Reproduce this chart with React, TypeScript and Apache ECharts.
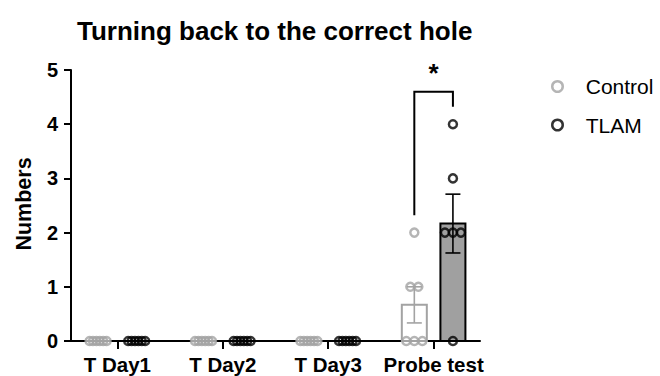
import React, { useEffect, useRef } from "react";
import * as echarts from "echarts";

const categories = ["T Day1", "T Day2", "T Day3", "Probe test"];
const controlValues = [
  [0, 0, 0, 0, 0, 0],
  [0, 0, 0, 0, 0, 0],
  [0, 0, 0, 0, 0, 0],
  [0, 0, 0, 1, 1, 2],
];
const tlamValues = [
  [0, 0, 0, 0, 0, 0],
  [0, 0, 0, 0, 0, 0],
  [0, 0, 0, 0, 0, 0],
  [0, 2, 2, 2, 3, 4],
];
const yTicks = [0, 1, 2, 3, 4, 5];
const bracketCategory = 3;
const bracketLegs = [2.32, 4.32];
const bracketTop = 4.6;
const bracketLabel = "*";

const FONT = "'Liberation Sans', Arial, Helvetica, sans-serif";
const X_MIN = -0.44;
const X_MAX = 3.44;
const GRID_LEFT = 71;
const GRID_RIGHT = 180;
const PX_PER_UNIT = (660 - GRID_LEFT - GRID_RIGHT) / (X_MAX - X_MIN);
const GROUP_OFFSET = 19.3 / PX_PER_UNIT;

const CONTROL_COLOR = "#a3a3a3";
const TLAM_COLOR = "#000000";
const TLAM_FILL = "#a0a0a0";

function mean(a: number[]) {
  return a.reduce((s, v) => s + v, 0) / a.length;
}
function sem(a: number[]) {
  const m = mean(a);
  const v = a.reduce((s, x) => s + (x - m) * (x - m), 0) / (a.length - 1);
  return Math.sqrt(v) / Math.sqrt(a.length);
}
function swarm(vals: number[], center: number) {
  const counts: Record<string, number> = {};
  vals.forEach((v) => (counts[v] = (counts[v] || 0) + 1));
  const seen: Record<string, number> = {};
  return vals.map((v) => {
    const n = counts[v];
    const k = seen[v] || 0;
    seen[v] = k + 1;
    const spacing = n > 1 ? Math.min(8, 17 / (n - 1)) : 0;
    const offPx = (k - (n - 1) / 2) * spacing;
    return [center + offPx / PX_PER_UNIT, v];
  });
}

export default function App() {
  const ref = useRef<HTMLDivElement>(null);
  useEffect(() => {
    if (!ref.current) return;
    const chart = echarts.init(ref.current, null, { renderer: "svg" });

    const groups = [
      { name: "Control", values: controlValues, sign: -1, color: CONTROL_COLOR, fill: "#ffffff" },
      { name: "TLAM", values: tlamValues, sign: 1, color: TLAM_COLOR, fill: TLAM_FILL },
    ];

    const series: any[] = [];
    groups.forEach((g) => {
      const summary = g.values.map((vals, i) => [
        i + g.sign * GROUP_OFFSET,
        mean(vals),
        sem(vals),
      ]);
      series.push({
        type: "custom",
        name: g.name + " mean",
        z: 1,
        data: summary,
        encode: { x: 0, y: 1 },
        renderItem: (params: any, api: any) => {
          const x = api.value(0);
          const m = api.value(1);
          const p0 = api.coord([x, 0]);
          const p1 = api.coord([x, m]);
          return {
            type: "rect",
            shape: { x: p0[0] - 12.5, y: p1[1], width: 25, height: p0[1] - p1[1] },
            style: { fill: g.fill, stroke: g.color, lineWidth: 2 },
          };
        },
      });
      series.push({
        type: "custom",
        name: g.name + " sem",
        z: 2,
        data: summary,
        encode: { x: 0, y: 1 },
        renderItem: (params: any, api: any) => {
          const x = api.value(0);
          const m = api.value(1);
          const s = api.value(2);
          if (s === 0) return null;
          const lo = api.coord([x, m - s]);
          const hi = api.coord([x, m + s]);
          const st = { stroke: g.color, lineWidth: 1.6 };
          return {
            type: "group",
            children: [
              { type: "line", shape: { x1: lo[0], y1: lo[1], x2: hi[0], y2: hi[1] }, style: st },
              { type: "line", shape: { x1: lo[0] - 7.5, y1: lo[1], x2: lo[0] + 7.5, y2: lo[1] }, style: st },
              { type: "line", shape: { x1: hi[0] - 7.5, y1: hi[1], x2: hi[0] + 7.5, y2: hi[1] }, style: st },
            ],
          };
        },
      });
      const pts: number[][] = [];
      g.values.forEach((vals, i) => {
        swarm(vals, i + g.sign * GROUP_OFFSET).forEach((p) => pts.push(p));
      });
      series.push({
        type: "scatter",
        name: g.name,
        z: 3,
        symbol: "circle",
        symbolSize: 8,
        data: pts,
        itemStyle: { color: "rgba(0,0,0,0)", borderColor: g.color, borderWidth: 2.5 },
      });
    });

    series.push({
      type: "custom",
      name: "significance",
      z: 4,
      data: [[bracketCategory - GROUP_OFFSET, bracketCategory + GROUP_OFFSET, bracketLegs[0], bracketLegs[1], bracketTop]],
      encode: { x: [0, 1], y: [2, 3, 4] },
      renderItem: (params: any, api: any) => {
        const xl = api.value(0);
        const xr = api.value(1);
        const a = api.coord([xl, api.value(2)]);
        const t1 = api.coord([xl, api.value(4)]);
        const t2 = api.coord([xr, api.value(4)]);
        const b = api.coord([xr, api.value(3)]);
        return {
          type: "group",
          children: [
            {
              type: "polyline",
              shape: { points: [a, t1, t2, b] },
              style: { stroke: "#000", lineWidth: 2, fill: "none" },
            },
            {
              type: "text",
              style: {
                x: (t1[0] + t2[0]) / 2,
                y: t1[1] - 6,
                text: bracketLabel,
                font: "bold 26px " + FONT,
                fill: "#000",
                align: "center",
                verticalAlign: "bottom",
              },
            },
          ],
        };
      },
    });

    chart.setOption({
      animation: false,
      backgroundColor: "#ffffff",
      title: {
        text: "Turning back to the correct hole",
        left: 72,
        top: 13,
        textStyle: { fontFamily: FONT, fontWeight: "bold", fontSize: 26, color: "#000" },
      },
      legend: {
        orient: "vertical",
        left: 546,
        top: 71,
        data: ["Control", "TLAM"],
        itemWidth: 10.5,
        itemHeight: 10.5,
        itemGap: 17.5,
        itemStyle: { borderWidth: 2.5 },
        textStyle: { fontFamily: FONT, fontSize: 21, color: "#000", padding: [0, 0, 0, 18] },
      },
      grid: { left: GRID_LEFT, right: GRID_RIGHT, top: 70, bottom: 35 },
      xAxis: {
        type: "value",
        min: X_MIN,
        max: X_MAX,
        splitLine: { show: false },
        axisLine: { show: true, onZero: false, lineStyle: { color: "#000", width: 2 } },
        axisTick: { show: true, customValues: [0, 1, 2, 3], length: 8, lineStyle: { color: "#000", width: 2 } },
        axisLabel: {
          customValues: [0, 1, 2, 3],
          formatter: (v: number) => categories[Math.round(v)] ?? "",
          fontFamily: FONT,
          fontWeight: "bold",
          fontSize: 20.5,
          color: "#000",
          margin: 13,
        },
      },
      yAxis: {
        type: "value",
        min: yTicks[0],
        max: yTicks[yTicks.length - 1],
        interval: 1,
        splitLine: { show: false },
        axisLine: { show: true, onZero: false, lineStyle: { color: "#000", width: 2 } },
        axisTick: { show: true, length: 7, lineStyle: { color: "#000", width: 2 } },
        axisLabel: {
          fontFamily: FONT,
          fontWeight: "bold",
          fontSize: 20,
          color: "#000",
          margin: 13,
        },
      },
      graphic: [
        {
          type: "text",
          x: 24,
          y: 204,
          rotation: Math.PI / 2,
          style: {
            text: "Numbers",
            font: "bold 21.5px " + FONT,
            fill: "#000",
            align: "center",
            verticalAlign: "middle",
          },
        },
      ],
      series,
    });
    return () => chart.dispose();
  }, []);
  return (
    <div
      ref={ref}
      style={{ position: "fixed", left: 0, top: 0, width: 660, height: 376, background: "#fff" }}
    />
  );
}
